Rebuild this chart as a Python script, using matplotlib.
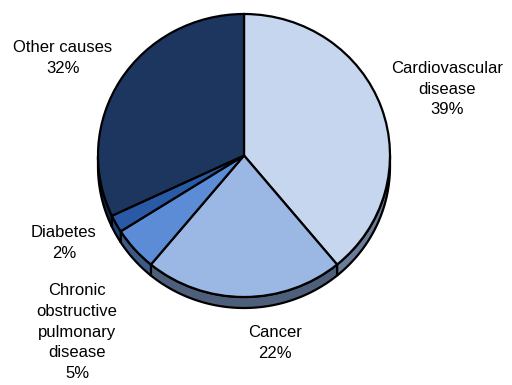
import numpy as np
import matplotlib
matplotlib.use('Agg')
import matplotlib.pyplot as plt
from matplotlib.patches import Polygon

# data
causes = ['Cardiovascular\ndisease', 'Cancer', 'Chronic\nobstructive\npulmonary\ndisease', 'Diabetes', 'Other causes']
shares = [39, 22, 5, 2, 32]
top_colors = ['#C5D6EE', '#9BB8E4', '#5B8CD5', '#2A59A6', '#1C365F']
side_colors = ['#6B7C99', '#4E5F7C', '#3D5A86', '#1F4278', '#14284C']

plt.rcParams['font.family'] = ['Liberation Sans', 'DejaVu Sans']

W, H = 512, 385
fig = plt.figure(figsize=(W / 100, H / 100), dpi=100)
ax = fig.add_axes([0, 0, 1, 1])

# pixel geometry of the tilted pie
cx_px, cy_px = 244, 155.5
rx_px, ry_px = 146, 141.5
depth_px = 11
sy = rx_px / ry_px          # data units per pixel in y

cx, cy = cx_px, (H - cy_px) * sy
r = rx_px
depth = depth_px * sy

# side walls (only the lower front half is visible)
fr = np.array(shares) / sum(shares)
edges = 90 - 360 * np.concatenate([[0], np.cumsum(fr)])
for i in range(len(shares)):
    ts = np.linspace(edges[i + 1], edges[i], 200)
    tm = ts % 360
    vis = ts[(tm >= 180) & (tm <= 360)]
    if len(vis) < 2:
        continue
    th = np.radians(vis)
    xs = cx + r * np.cos(th)
    ys = cy + r * np.sin(th)
    pts = np.concatenate([np.column_stack([xs, ys]),
                          np.column_stack([xs[::-1], ys[::-1] - depth])])
    ax.add_patch(Polygon(pts, closed=True, facecolor=side_colors[i],
                         edgecolor='black', linewidth=1.6, zorder=1))

wedges, _ = ax.pie(shares, colors=top_colors, startangle=90, counterclock=False,
                   center=(cx, cy), radius=r, frame=True,
                   wedgeprops=dict(edgecolor='black', linewidth=1.6))
for w in wedges:
    w.set_zorder(2)
ax.set_xlim(0, W)
ax.set_ylim(0, H * sy)
ax.set_aspect('auto')
ax.axis('off')

# labels
label_px = [(447, 89), (275, 343), (77, 332), (64, 243), (63, 58)]
for name, val, (lx, ly) in zip(causes, shares, label_px):
    ax.text(lx, (H - ly) * sy, f'{name}\n{val}%', ha='center', va='center',
            fontsize=12, linespacing=1.48, color='black')

fig.savefig('out.png', dpi=100)
